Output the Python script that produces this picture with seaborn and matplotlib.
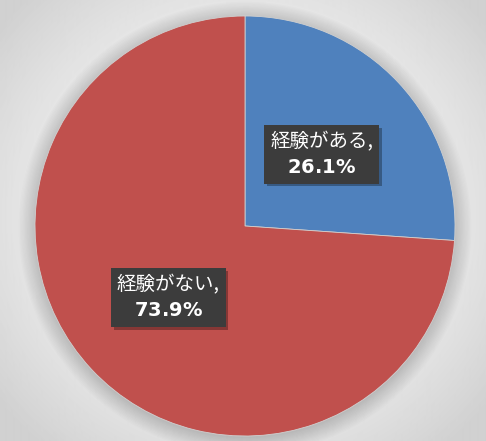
import numpy as np
import seaborn as sns
import matplotlib.pyplot as plt
from matplotlib import patheffects as pe
from matplotlib.patches import Circle

labels = ['経験がある', '経験がない']
values = [26.1, 73.9]
colors = ['#4F81BD', '#C0504D']

sns.set_theme(style='white')
plt.rcParams['font.family'] = ['Noto Sans CJK JP', 'DejaVu Sans']

fig = plt.figure(figsize=(4.86, 4.41), dpi=100)

# radial gray background
bg = fig.add_axes([0, 0, 1, 1])
yy, xx = np.mgrid[0:441, 0:486]
r = np.sqrt(((xx - 243) / 300.0) ** 2 + ((yy - 215) / 290.0) ** 2)
shade = np.clip(1.0 - 0.17 * r ** 1.6, 0.82, 1.0)
bg.imshow(shade, cmap='gray', vmin=0, vmax=1, aspect='auto', interpolation='bilinear')
bg.axis('off')

ax = fig.add_axes([35 / 486, 5 / 441, 420 / 486, 420 / 441])
ax.set_facecolor('none')

# soft shadow around the pie
for i in range(14):
    ax.add_patch(Circle((0.0, -0.01), 1.0 + i * 0.006, color='black', alpha=0.01,
                        zorder=0, lw=0, clip_on=False))

it = iter(labels)
wedges, texts, autotexts = ax.pie(
    values, colors=colors, startangle=90, counterclock=False,
    autopct=lambda p: f'{next(it)},\n$\\bf{{{p:.1f}\\%}}$', pctdistance=0.5,
    wedgeprops=dict(linewidth=0.6, edgecolor='#d0d0d0'), radius=1.0,
)
for t in autotexts:
    t.set_color('white')
    t.set_fontsize(14)
    t.set_ha('center')
    t.set_multialignment('center')
    t.set_linespacing(1.3)
    t.set_bbox(dict(boxstyle='square,pad=0.3', facecolor='#3c3c3c', edgecolor='none'))
    t.get_bbox_patch().set_path_effects([
        pe.SimplePatchShadow(offset=(2, -2), shadow_rgbFace='black', alpha=0.3),
        pe.Normal(),
    ])

ax.set_xlim(-1, 1)
ax.set_ylim(-1, 1)
ax.set_aspect('auto')

fig.savefig('out.png', dpi=100)
